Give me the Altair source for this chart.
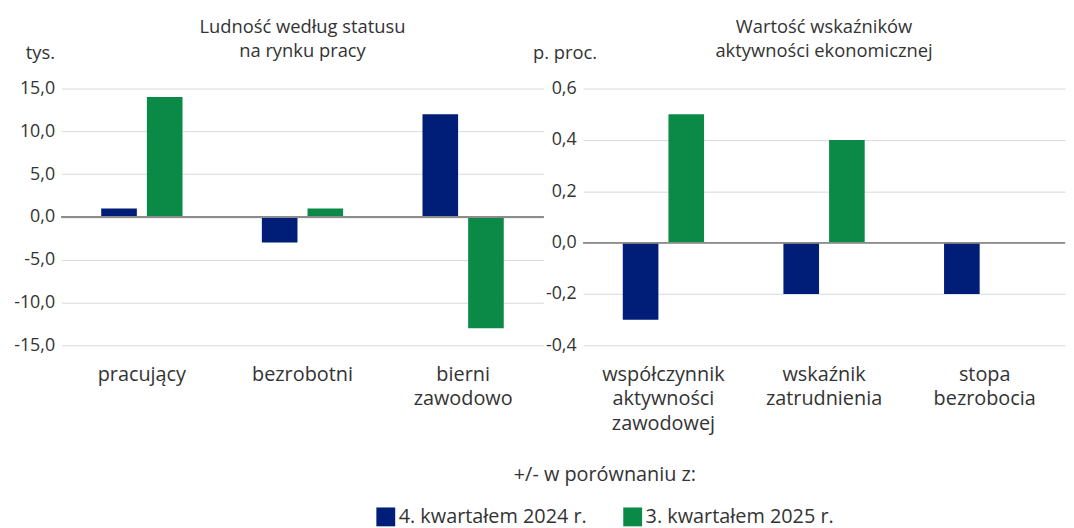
import altair as alt
import pandas as pd

series = ["4. kwartałem 2024 r.", "3. kwartałem 2025 r."]
colors = ["#001d77", "#0b8a47"]

left_categories = ["pracujący", "bezrobotni", "bierni|zawodowo"]
left_q4_2024 = [1.0, -3.0, 12.0]
left_q3_2025 = [14.0, 1.0, -13.0]

right_categories = ["współczynnik|aktywności|zawodowej", "wskaźnik|zatrudnienia", "stopa|bezrobocia"]
right_q4_2024 = [-0.3, -0.2, -0.2]
right_q3_2025 = [0.5, 0.4, 0.0]

left_ticks = [-15, -10, -5, 0, 5, 10, 15]
right_ticks = [-0.4, -0.2, 0.0, 0.2, 0.4, 0.6]

FONT = "Open Sans"
FS = 18
FS_X = 20
FS_LEG = 20
FS_TITLE = 18.5
TXT = "#333333"


def frame(cats, a, b):
    rows = []
    for c, v in zip(cats, a):
        rows.append({"cat": c, "series": series[0], "value": v})
    for c, v in zip(cats, b):
        rows.append({"cat": c, "series": series[1], "value": v})
    return pd.DataFrame(rows)


def panel(df, cats, ticks, dom, title_lines, ytitle, title_x, title_align):
    color = alt.Color(
        "series:N",
        scale=alt.Scale(domain=series, range=colors),
        sort=series,
        legend=alt.Legend(
            title="+/- w porównaniu z:",
            orient="none",
            legendX=317,
            legendY=380,
            direction="horizontal",
            titleAnchor="middle",
            titleFontSize=FS_LEG,
            titleFontWeight="normal",
            titleColor=TXT,
            titleFont=FONT,
            titleLimit=500,
            titlePadding=22,
            labelFontSize=FS_LEG,
            labelColor=TXT,
            labelFont=FONT,
            symbolType="square",
            symbolSize=361,
            symbolStrokeWidth=0,
            symbolOpacity=1,
            columnPadding=36,
            labelOffset=3,
            labelLimit=300,
        ),
    )
    bars = alt.Chart(df).mark_bar().encode(
        x=alt.X(
            "cat:N",
            sort=cats,
            scale=alt.Scale(paddingInner=0.494, paddingOuter=0.247),
            axis=alt.Axis(
                title=None,
                labelAngle=0,
                domain=False,
                ticks=False,
                labelExpr="split(datum.label, '|')",
                labelFontSize=FS_X,
                labelColor=TXT,
                labelFont=FONT,
                labelPadding=29,
                labelLineHeight=25,
                labelBaseline="middle",
            ),
        ),
        xOffset=alt.XOffset("series:N", sort=series, scale=alt.Scale(paddingInner=0.22)),
        y=alt.Y(
            "value:Q",
            scale=alt.Scale(domain=dom, nice=False, zero=False),
            axis=alt.Axis(
                values=ticks,
                title=ytitle,
                titleAngle=0,
                titleX=title_x,
                titleY=-36,
                titleAlign=title_align,
                titleBaseline="middle",
                titleFontSize=FS_TITLE,
                titleFontWeight="normal",
                titleColor=TXT,
                titleFont=FONT,
                labelExpr="replace(replace(format(datum.value, '.1f'), '.', ','), '\u2212', '-')",
                labelFontSize=FS,
                labelColor=TXT,
                labelFont=FONT,
                labelPadding=7,
                domain=False,
                ticks=False,
                grid=True,
                gridColor="#d9d9d9",
                gridWidth=1,
            ),
        ),
        color=color,
    )
    zero = alt.Chart(df).mark_rule(color="#8c8c8c", strokeWidth=1.5).encode(y=alt.datum(0))
    return alt.layer(bars, zero).properties(
        width=486,
        height=259,
        title=alt.TitleParams(
            text=title_lines,
            anchor="middle",
            fontSize=FS_TITLE,
            fontWeight="normal",
            color=TXT,
            font=FONT,
            lineHeight=25,
            offset=-17,
        ),
    )


left = panel(frame(left_categories, left_q4_2024, left_q3_2025), left_categories,
             left_ticks, [-15, 15], ["Ludność według statusu", "na rynku pracy"], "tys.", -7, "right")
right = panel(frame(right_categories, right_q4_2024, right_q3_2025), right_categories,
              right_ticks, [-0.4, 0.6], ["Wartość wskaźników", "aktywności ekonomicznej"], "p. proc.", -51, "left")

chart = alt.hconcat(
    left, right, spacing=40, bounds="flush"
).configure_view(stroke=None).properties(padding={"left": 5, "top": 7, "right": 0, "bottom": 0})

chart.save("out.html", embed_options={"renderer": "svg", "actions": False})
